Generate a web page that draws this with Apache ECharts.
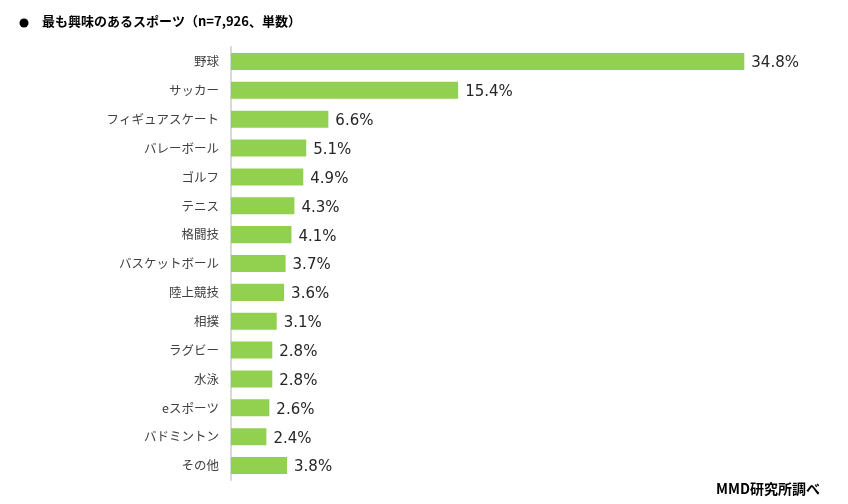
<!DOCTYPE html>
<html><head><meta charset="utf-8">
<script src="https://cdn.jsdelivr.net/npm/echarts@6/dist/echarts.min.js"></script>
<style>html,body{margin:0;padding:0;background:#fff}#c{width:848px;height:504px}</style>
</head><body><div id="c"></div>
<script>
const categories = ['野球','サッカー','フィギュアスケート','バレーボール','ゴルフ','テニス','格闘技','バスケットボール','陸上競技','相撲','ラグビー','水泳','eスポーツ','バドミントン','その他'];
const values = [34.8,15.4,6.6,5.1,4.9,4.3,4.1,3.7,3.6,3.1,2.8,2.8,2.6,2.4,3.8];
const titleText = '最も興味のあるスポーツ（n=7,926、単数）';
const sourceText = 'MMD研究所調べ';
const FONT = '"Noto Sans CJK JP", "Noto Sans", sans-serif';
const NUMFONT = '"DejaVu Sans", "Noto Sans CJK JP", sans-serif';

const chart = echarts.init(document.getElementById('c'));
chart.setOption({
  backgroundColor: '#ffffff',
  animation: false,
  graphic: [
    {type:'circle', shape:{cx:24, cy:23, r:4.5}, style:{fill:'#000'}},
    {type:'text', left:42, top:15, style:{text:titleText, font:'bold 13px '+FONT, fill:'#000'}},
    {type:'text', right:28, top:482, style:{text:sourceText, font:'bold 14px '+FONT, fill:'#000'}}
  ],
  grid: {left:231, top:47, width:590, height:433, containLabel:false},
  xAxis: {type:'value', min:0, max:40, show:false},
  yAxis: {
    type:'category', data:categories, inverse:true,
    axisLine:{show:true, lineStyle:{color:'#d9d9d9', width:2}},
    axisTick:{show:false},
    axisLabel:{color:'#404040', fontSize:12.5, fontFamily:FONT, margin:12}
  },
  series: [{
    type:'bar', data:values, barCategoryGap:'41%',
    itemStyle:{color:'#92d050'},
    label:{show:true, position:'right', distance:7, offset:[0,2], formatter: p => p.value.toFixed(1)+'%', color:'#262626', fontSize:15, fontFamily:NUMFONT}
  }]
});
</script></body></html>
